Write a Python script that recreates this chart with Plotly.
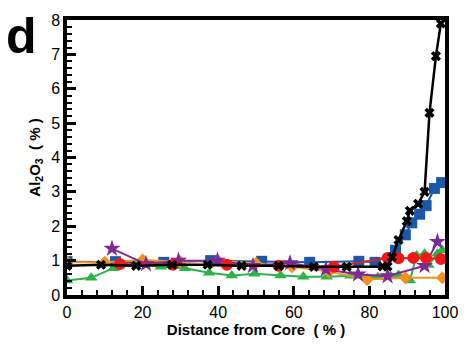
import plotly.graph_objects as go

# Al2O3 content (%) versus relative distance from the core (%)
black_x = [0, 9, 18.3, 27.8, 37.2, 46.2, 56, 65.3, 74, 83.5, 84.8, 86, 87.7, 89.9, 90.7, 92.9, 94.6, 95.9, 97.6, 98.9]
black_y = [0.85, 0.88, 0.85, 0.88, 0.88, 0.85, 0.85, 0.82, 0.82, 0.83, 0.83, 1.1, 1.6, 2.15, 2.45, 2.65, 3.0, 5.3, 6.95, 7.9]

blue_x = [0, 12.8, 25.6, 38, 51.5, 64.2, 77.2, 81.5, 86.9, 89.5, 91.2, 93.3, 95, 97.2, 99.1]
blue_y = [0.97, 0.97, 0.95, 1.0, 0.98, 0.95, 0.98, 0.95, 1.3, 1.75, 2.1, 2.35, 2.6, 3.1, 3.27]

red_x = [14, 28, 42.3, 56, 70.6, 84.8, 87.7, 91.6, 95, 98.9]
red_y = [0.9, 0.88, 0.88, 0.85, 0.82, 1.08, 1.07, 1.08, 1.08, 1.05]

orange_x = [0, 10, 20, 30, 40, 50, 59.5, 69.3, 79.4, 89.5, 99.3]
orange_y = [0.95, 0.95, 1.02, 0.97, 1.0, 0.92, 0.82, 0.68, 0.45, 0.5, 0.5]

purple_x = [11.9, 20.9, 29.5, 39.8, 49.2, 59, 68.5, 77, 84.8, 94.6, 98]
purple_y = [1.35, 0.9, 1.0, 1.0, 0.85, 0.93, 0.75, 0.6, 0.55, 0.85, 1.55]

green_x = [0, 6.4, 12.3, 18.8, 24.8, 31.2, 37.6, 43.6, 49.6, 56.5, 62.5, 68.7, 75, 82.2, 85.6, 87.7, 90.7, 92.5, 94.6, 95.6, 98, 99.3]
green_y = [0.42, 0.5, 0.78, 0.9, 0.82, 0.78, 0.65, 0.57, 0.62, 0.57, 0.53, 0.53, 0.56, 0.52, 0.55, 0.58, 0.42, 1.15, 1.2, 0.87, 1.2, 1.3]

x_ticks = [0, 20, 40, 60, 80, 100]
y_ticks = [0, 1, 2, 3, 4, 5, 6, 7, 8]

series = [
    (blue_x, blue_y, "#1c58a8", "square", 11, 2),
    (green_x, green_y, "#2db34a", "triangle-up", 11, 2),
    (orange_x, orange_y, "#f5921e", "diamond", 10, 2),
    (purple_x, purple_y, "#7e2a96", "star", 13, 2),
    (red_x, red_y, "#f01818", "circle", 12, 2),
    (black_x, black_y, "#000000", "x", 9, 2.5),
]

fig = go.Figure()
for xs, ys, color, symbol, size, lw in series:
    fig.add_trace(go.Scatter(
        x=xs, y=ys, mode="lines+markers",
        line=dict(color=color, width=lw),
        marker=dict(symbol=symbol, size=size, color=color),
        showlegend=False,
    ))

font_family = "Liberation Sans, Arial, sans-serif"

fig.update_xaxes(
    range=[0, 100], tickvals=x_ticks, ticks="inside", ticklen=9, tickwidth=2.5,
    tickcolor="black", showline=True, linecolor="black", linewidth=3.5, mirror=True,
    showgrid=False, zeroline=False,
    minor=dict(dtick=4, ticks="inside", ticklen=5, tickwidth=2, tickcolor="black", showgrid=False),
    tickfont=dict(size=16, color="black", family=font_family),
    title=dict(text="<b>Distance from Core  ( % )</b>", font=dict(size=15, color="black", family=font_family), standoff=5),
)
fig.update_yaxes(
    range=[0, 8], tickvals=y_ticks, ticks="inside", ticklen=9, tickwidth=2.5,
    tickcolor="black", showline=True, linecolor="black", linewidth=3.5, mirror=True,
    showgrid=False, zeroline=False,
    minor=dict(dtick=0.2, ticks="inside", ticklen=5, tickwidth=2, tickcolor="black", showgrid=False),
    tickfont=dict(size=16, color="black", family=font_family),
    title=dict(text="<b>Al<sub>2</sub>O<sub>3</sub>  ( % )</b>", font=dict(size=15, color="black", family=font_family), standoff=8),
)

fig.add_annotation(
    text="<b>d</b>", xref="paper", yref="paper", x=-0.12, y=1.05,
    xanchor="center", yanchor="top", showarrow=False,
    font=dict(size=50, color="black", family=font_family),
)

fig.update_layout(
    width=470, height=348,
    margin=dict(l=67, r=14, t=13, b=50),
    paper_bgcolor="white", plot_bgcolor="white",
)

fig.write_html("out.html")
